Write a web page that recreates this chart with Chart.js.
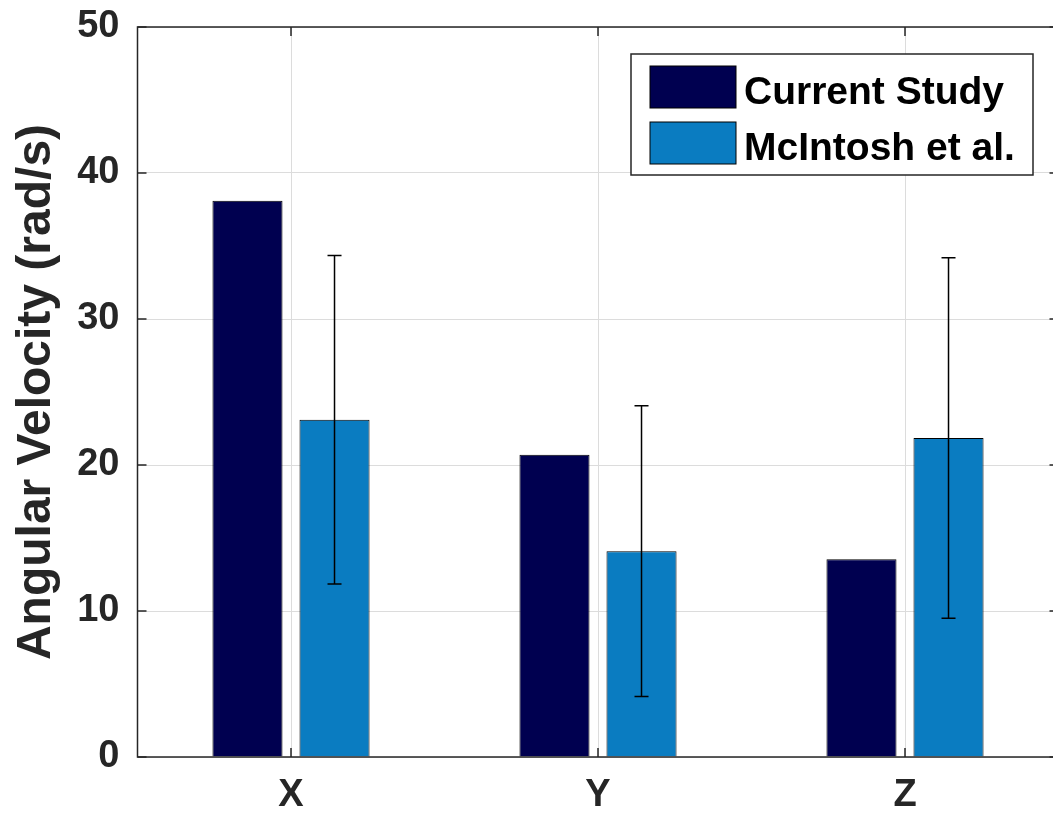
<!DOCTYPE html>
<html>
<head>
<meta charset="utf-8">
<script src="https://cdn.jsdelivr.net/npm/chart.js@4"></script>
<style>
  html, body { margin: 0; padding: 0; background: #fff; overflow: hidden; }
  #wrap { width: 1060px; height: 819px; }
</style>
</head>
<body>
<div id="wrap"><canvas id="chart"></canvas></div>
<script>
const categories = ['X', 'Y', 'Z'];
const currentStudy = [38.1, 20.7, 13.55];
const mcintosh = [23.1, 14.1, 21.85];
const mcintoshErr = [11.25, 9.95, 12.35];
const yTicks = [0, 10, 20, 30, 40, 50];

const font = "'Liberation Sans', Arial, sans-serif";
const axisColor = '#262626';

// error bars + box + inward ticks + legend
const extras = {
  id: 'extras',
  afterDatasetsDraw(chart) {
    const ctx = chart.ctx;
    const y = chart.scales.y;
    const meta = chart.getDatasetMeta(1);
    ctx.save();
    ctx.strokeStyle = '#000';
    ctx.lineWidth = 1.5;
    meta.data.forEach((bar, i) => {
      const top = y.getPixelForValue(mcintosh[i] + mcintoshErr[i]);
      const bot = y.getPixelForValue(mcintosh[i] - mcintoshErr[i]);
      ctx.beginPath();
      ctx.moveTo(bar.x, top); ctx.lineTo(bar.x, bot);
      ctx.moveTo(bar.x - 7, top); ctx.lineTo(bar.x + 7, top);
      ctx.moveTo(bar.x - 7, bot); ctx.lineTo(bar.x + 7, bot);
      ctx.stroke();
    });
    ctx.restore();
  },
  afterDraw(chart) {
    const ctx = chart.ctx;
    const a = chart.chartArea;
    const x = chart.scales.x, y = chart.scales.y;
    ctx.save();
    ctx.strokeStyle = axisColor;
    ctx.lineWidth = 1.5;
    ctx.strokeRect(a.left, a.top, a.right - a.left, a.bottom - a.top);
    ctx.beginPath();
    yTicks.forEach(v => {
      const py = y.getPixelForValue(v);
      ctx.moveTo(a.left, py); ctx.lineTo(a.left + 9, py);
      ctx.moveTo(a.right, py); ctx.lineTo(a.right - 9, py);
    });
    categories.forEach((c, i) => {
      const px = x.getPixelForValue(i);
      ctx.moveTo(px, a.bottom); ctx.lineTo(px, a.bottom - 9);
      ctx.moveTo(px, a.top); ctx.lineTo(px, a.top + 9);
    });
    ctx.stroke();

    // legend box
    const lx = 631, ly = 54, lw = 402, lh = 121;
    ctx.fillStyle = '#fff';
    ctx.fillRect(lx, ly, lw, lh);
    ctx.strokeStyle = '#262626';
    ctx.lineWidth = 1.5;
    ctx.strokeRect(lx, ly, lw, lh);
    ctx.font = 'bold 39px ' + font;
    ctx.textBaseline = 'alphabetic';
    chart.data.datasets.forEach((ds, i) => {
      const sy = ly + 12 + i * 56;
      ctx.fillStyle = ds.backgroundColor;
      ctx.fillRect(lx + 19, sy, 86, 42);
      ctx.strokeStyle = '#000';
      ctx.lineWidth = 1;
      ctx.strokeRect(lx + 19, sy, 86, 42);
      ctx.fillStyle = '#000';
      ctx.fillText(ds.label, lx + 113, sy + 38);
    });
    ctx.restore();
  }
};

new Chart(document.getElementById('chart'), {
  type: 'bar',
  data: {
    labels: categories,
    datasets: [
      {
        label: 'Current Study',
        data: currentStudy,
        backgroundColor: '#000050',
        borderColor: '#000',
        borderWidth: 1,
        barPercentage: 0.805,
        categoryPercentage: 0.567
      },
      {
        label: 'McIntosh et al.',
        data: mcintosh,
        backgroundColor: '#0a7cc1',
        borderColor: '#000',
        borderWidth: 1,
        barPercentage: 0.805,
        categoryPercentage: 0.567
      }
    ]
  },
  options: {
    responsive: true,
    maintainAspectRatio: false,
    animation: false,
    layout: { padding: { top: 27, right: 1.5, left: 0, bottom: 0 } },
    plugins: {
      legend: { display: false },
      tooltip: { enabled: false }
    },
    scales: {
      x: {
        offset: true,
        grid: { offset: false, color: '#dcdcdc', lineWidth: 1, drawTicks: false },
        border: { display: false },
        ticks: {
          color: axisColor,
          padding: 16,
          font: { family: font, size: 38, weight: 'bold' }
        },
        afterFit(s) { s.height = 62; s.paddingLeft = 0; s.paddingRight = 0; }
      },
      y: {
        min: 0,
        max: 50,
        afterBuildTicks(s) { s.ticks = yTicks.map(v => ({ value: v })); },
        grid: { color: '#dcdcdc', lineWidth: 1, drawTicks: false },
        border: { display: false },
        ticks: {
          color: axisColor,
          padding: 18,
          font: { family: font, size: 38, weight: 'bold' }
        },
        title: {
          display: true,
          text: 'Angular Velocity (rad/s)',
          color: axisColor,
          padding: { top: 8, bottom: 0 },
          font: { family: font, size: 48, weight: 'bold' }
        },
        afterFit(s) { s.width = 137.5; s.paddingTop = 0; s.paddingBottom = 0; }
      }
    }
  },
  plugins: [extras]
});
</script>
</body>
</html>
